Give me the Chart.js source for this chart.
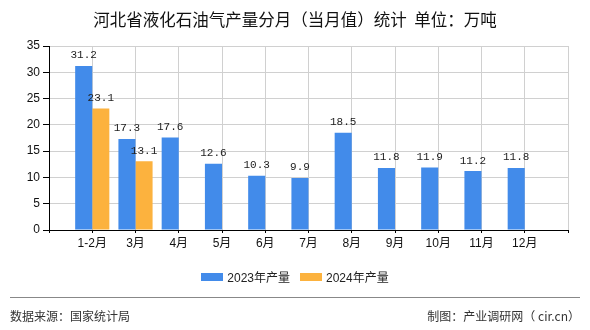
<!DOCTYPE html>
<html>
<head>
<meta charset="utf-8">
<script src="https://cdn.jsdelivr.net/npm/chart.js@4"></script>
<style>
    body { margin: 0; background: #fff; }
    #wrap { position: relative; width: 590px; height: 330px; font-family: "Liberation Sans", "Noto Sans CJK SC", sans-serif; }
    #title { position: absolute; top: 7px; left: 0; width: 590px; text-align: center; font-size: 16.5px; color: #111; font-family: "Noto Sans CJK SC", sans-serif; }
    #legend { position: absolute; top: 268px; left: 0; width: 590px; display: flex; justify-content: center; font-size: 12px; color: #222; }
    .item { display: flex; align-items: center; margin: 0 5px; }
    .box { width: 22px; height: 8px; margin-right: 4px; }
    #line { position: absolute; top: 297px; left: 10px; width: 570px; height: 1px; background: #888; }
    .foot { position: absolute; top: 307px; font-size: 12px; color: #333; font-family: "Noto Sans CJK SC", sans-serif; }
    canvas { position: absolute; top: 0; left: 0; }
</style>
</head>
<body>
<div id="wrap">
    <canvas id="chart" width="590" height="330"></canvas>
    <div id="title">河北省液化石油气产量分月（当月值）统计&nbsp; 单位：万吨</div>
    <div id="legend">
        <div class="item"><span class="box" style="background:#428bea"></span>2023年产量</div>
        <div class="item"><span class="box" style="background:#fcb23e"></span>2024年产量</div>
    </div>
    <div id="line"></div>
    <div class="foot" style="left:10px">数据来源：国家统计局</div>
    <div class="foot" style="right:10px">制图：产业调研网（ cir.cn）</div>
</div>
<script>
// data
const months = ['', '1-2月', '3月', '4月', '5月', '6月', '7月', '8月', '9月', '10月', '11月', '12月', ''];
const output2023 = [null, 31.2, 17.3, 17.6, 12.6, 10.3, 9.9, 18.5, 11.8, 11.9, 11.2, 11.8, null];
const output2024 = [null, 23.1, 13.1, null, null, null, null, null, null, null, null, null, null];
const yTicks = [0, 5, 10, 15, 20, 25, 30, 35];

const blue = '#428bea';
const orange = '#fcb23e';

// value labels above each bar
const barLabels = {
    id: 'barLabels',
    afterDatasetsDraw(chart) {
        const ctx = chart.ctx;
        ctx.save();
        ctx.font = '11px "Liberation Mono", monospace';
        ctx.fillStyle = '#222';
        ctx.textAlign = 'center';
        ctx.textBaseline = 'bottom';
        chart.data.datasets.forEach((ds, i) => {
            chart.getDatasetMeta(i).data.forEach((bar, j) => {
                if (ds.data[j] == null) return;
                ctx.fillText(ds.data[j].toFixed(1), bar.x, bar.y - 5);
            });
        });
        ctx.restore();
    }
};

new Chart(document.getElementById('chart'), {
    type: 'bar',
    data: {
        labels: months,
        datasets: [
            { label: '2023年产量', data: output2023, backgroundColor: blue },
            { label: '2024年产量', data: output2024, backgroundColor: orange }
        ]
    },
    options: {
        responsive: false,
        animation: false,
        layout: { padding: { top: 46, right: 22, bottom: 80, left: 0 } },
        categoryPercentage: 0.79,
        barPercentage: 1,
        plugins: { legend: { display: false }, tooltip: { enabled: false } },
        scales: {
            x: {
                offset: false,
                afterFit(scale) { scale.height = 20; },
                grid: { offset: false, color: '#d0d0d0', tickColor: '#000', tickLength: 3 },
                border: { color: '#000' },
                ticks: {
                    color: '#111',
                    padding: 3,
                    maxRotation: 0,
                    autoSkip: false,
                    font: { size: 12, family: '"Liberation Sans", "Noto Sans CJK SC", sans-serif' }
                }
            },
            y: {
                min: 0,
                max: 35,
                afterFit(scale) { scale.width = 49; },
                afterBuildTicks(scale) { scale.ticks = yTicks.map(v => ({ value: v })); },
                grid: { color: '#d0d0d0', tickColor: '#000', tickLength: 6 },
                border: { color: '#000' },
                ticks: {
                    color: '#111',
                    padding: 3,
                    font: { size: 12, family: '"Liberation Sans", sans-serif' }
                }
            }
        }
    },
    plugins: [barLabels]
});
</script>
</body>
</html>
